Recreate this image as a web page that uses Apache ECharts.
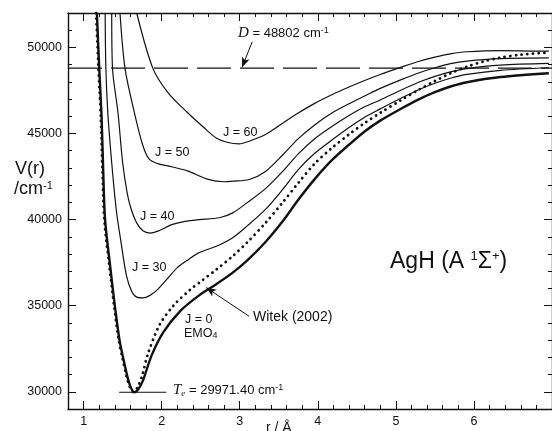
<!DOCTYPE html>
<html>
<head>
<meta charset="utf-8">
<script src="https://cdn.jsdelivr.net/npm/echarts@6/dist/echarts.min.js"></script>
<style>
  html, body { margin: 0; padding: 0; background: #fff; }
  #chart { width: 552px; height: 431px; }
</style>
</head>
<body>
<div id="chart"></div>
<script>
// Potential energy curves of AgH in the A 1Sigma+ state, r in Angstrom, V in cm^-1.
const emo4 = [
  [1.17,52000],[1.20,48800],[1.23,46000],[1.25,43000],[1.275,40000],[1.34,37300],[1.40,35000],
  [1.46,33000],[1.51,31900],[1.56,30900],[1.60,30300],[1.65,29971.4],[1.70,30150],[1.76,30650],
  [1.87,32100],[2.02,33450],[2.24,34700],[2.48,35600],[2.70,36250],[2.91,36920],[3.10,37650],
  [3.33,38700],[3.55,39900],[3.75,41150],[3.96,42350],[4.18,43450],[4.40,44350],[4.60,45120],
  [4.80,45750],[5.07,46450],[5.30,47000],[5.50,47400],[5.70,47730],[5.91,47980],[6.34,48280],[6.96,48500]
];
const witek = [
  [1.16,52000],[1.19,48800],[1.22,46000],[1.24,43000],[1.265,40000],[1.33,37300],[1.39,35000],
  [1.45,33000],[1.50,31900],[1.55,30900],[1.59,30300],[1.635,29990],[1.69,30250],[1.75,30950],
  [1.82,32150],[1.97,33860],[2.15,35000],[2.37,35950],[2.50,36400],[2.70,37100],[2.91,37880],
  [3.10,38700],[3.33,39810],[3.55,41000],[3.75,42130],[3.96,43250],[4.18,44160],[4.40,44950],
  [4.60,45610],[4.80,46200],[5.06,46920],[5.30,47560],[5.50,48050],[5.70,48500],[5.91,48880],
  [6.12,49180],[6.33,49400],[6.60,49580],[6.95,49700]
];
const j30 = [
  [1.276,52000],[1.285,48800],[1.31,46200],[1.36,43300],[1.42,40500],[1.48,38660],[1.55,36720],
  [1.62,35800],[1.69,35480],[1.76,35450],[1.85,35600],[1.95,35950],[2.08,36600],[2.20,37210],
  [2.35,37700],[2.48,38080],[2.70,38450],[2.91,38950],[3.10,39650],[3.33,40590],[3.55,41750],
  [3.75,42900],[3.96,43850],[4.18,44620],[4.40,45350],[4.60,45950],[4.80,46430],[5.07,47060],
  [5.30,47560],[5.50,47920],[5.70,48210],[5.91,48430],[6.34,48670],[6.96,48820]
];
const j40 = [
  [1.36,52000],[1.37,48800],[1.44,46220],[1.50,43320],[1.56,41500],[1.61,40600],[1.68,39810],
  [1.76,39350],[1.85,39220],[1.95,39330],[2.14,39720],[2.30,39900],[2.48,40000],[2.74,40110],
  [2.91,40390],[3.10,41000],[3.33,41800],[3.55,42800],[3.75,43820],[3.96,44700],[4.18,45410],
  [4.40,46050],[4.60,46550],[4.80,46950],[5.07,47530],[5.30,47990],[5.50,48320],[5.70,48580],
  [5.91,48770],[6.34,48970],[6.96,49070]
];
const j50 = [
  [1.466,52000],[1.53,48800],[1.65,46220],[1.76,44290],[1.84,43510],[1.95,43250],[2.08,43120],
  [2.33,42830],[2.585,42350],[2.80,42200],[2.91,42230],[3.12,42330],[3.33,42800],[3.55,43750],
  [3.75,44700],[3.96,45500],[4.18,46190],[4.40,46730],[4.60,47180],[4.80,47620],[5.07,48130],
  [5.30,48530],[5.50,48820],[5.70,49060],[5.91,49210],[6.34,49350],[6.96,49390]
];
const j60 = [
  [1.68,52000],[1.886,48800],[2.08,47380],[2.33,46220],[2.54,45350],[2.70,44740],[2.85,44480],
  [2.99,44400],[3.12,44550],[3.33,44940],[3.55,45600],[3.75,46190],[3.96,46750],[4.18,47250],
  [4.40,47700],[4.60,48080],[4.80,48430],[5.07,48855],[5.30,49200],[5.50,49440],[5.70,49630],
  [5.91,49750],[6.34,49820],[6.96,49780]
];
const dissociation = 48802;
const te = 29971.40;
const teSpan = [1.455, 2.06];

const xRange = [0.8, 7];
const yRange = [29000, 52000];
const xMajor = [1, 2, 3, 4, 5, 6, 7];
const xLabels = [1, 2, 3, 4, 5, 6];
const yMajor = [30000, 35000, 40000, 45000, 50000];

const xMinor = [];
for (let i = 4; i <= 35; i++) { const v = +(i * 0.2).toFixed(1); if (v % 1 !== 0) xMinor.push(v); }
const yMinor = [];
for (let v = 29000; v <= 52000; v += 1000) if (v % 5000 !== 0) yMinor.push(v);

const INK = '#111';
const SANS = '"Liberation Sans", Arial, Helvetica, sans-serif';
const SERIF = '"Liberation Serif", "Times New Roman", serif';

function axis(pos, range, ticks, len, labels, showLine) {
  return {
    type: 'value', position: pos, min: range[0], max: range[1],
    axisLine: { show: showLine, onZero: false, lineStyle: { color: INK, width: 1.4 } },
    axisTick: { show: true, inside: true, length: len, customValues: ticks, lineStyle: { color: INK, width: 1 } },
    axisLabel: labels
      ? { customValues: labels, color: INK, fontSize: 12.5, fontFamily: SANS, margin: 6, formatter: v => String(v) }
      : { show: false },
    splitLine: { show: false }
  };
}

function curve(name, data, width, dash) {
  return {
    name, type: 'line', data, showSymbol: false, symbol: 'none',
    smooth: 0.3, clip: true, silent: true,
    lineStyle: { color: INK, width, type: dash || 'solid', cap: dash ? 'round' : 'butt', join: 'round' },
    z: dash ? 3 : 2
  };
}

const chart = echarts.init(document.getElementById('chart'), null, { renderer: 'canvas' });

chart.setOption({
  animation: false,
  backgroundColor: '#fff',
  grid: { left: 68, right: -3.4, top: 13, bottom: 22, containLabel: false },
  xAxis: [
    axis('bottom', xRange, xMajor, 8, xLabels, true),
    axis('bottom', xRange, xMinor, 4, null, false),
    axis('top', xRange, xMajor, 8, null, true),
    axis('top', xRange, xMinor, 4, null, false)
  ],
  yAxis: [
    axis('left', yRange, yMajor, 8, yMajor, true),
    axis('left', yRange, yMinor, 4, null, false),
    axis('right', yRange, yMajor, 8, null, true),
    axis('right', yRange, yMinor, 4, null, false)
  ],
  series: [
    curve('J=60', j60, 1.2),
    curve('J=50', j50, 1.2),
    curve('J=40', j40, 1.2),
    curve('J=30', j30, 1.2),
    curve('J=0 EMO4', emo4, 2.4),
    curve('Witek (2002)', witek, 2.8, [0.1, 5.6]),
    {
      name: 'D', type: 'line', silent: true, showSymbol: false, symbol: 'none',
      data: [[xRange[0], dissociation], [xRange[1], dissociation]],
      lineStyle: { color: INK, width: 1.2, type: [34, 9] }, z: 1,
      markLine: {
        silent: true, symbol: ['none', 'arrow'], symbolSize: [6, 10], label: { show: false },
        lineStyle: { color: INK, width: 1, type: 'solid' },
        data: [
          [{ coord: [3.16, 50330] }, { coord: [3.03, 48850] }],
          [{ coord: [3.12, 34386] }, { coord: [2.57, 36050] }]
        ]
      }
    },
    {
      name: 'Te', type: 'line', silent: true, showSymbol: false, symbol: 'none',
      data: [[teSpan[0], te], [teSpan[1], te]],
      lineStyle: { color: INK, width: 1 }, z: 1
    }
  ],
  graphic: [
    { type: 'text', x: 15, y: 160, style: { text: 'V(r)', font: '18px ' + SANS, fill: INK } },
    { type: 'text', x: 14, y: 180, style: { text: '/cm{s|-1}', font: '18px ' + SANS, fill: INK,
        rich: { s: { fontSize: 11, fontFamily: SANS, verticalAlign: 'top' } } } },
    { type: 'text', x: 266, y: 421, style: { text: 'r / Å', font: '14px ' + SANS, fill: INK } },
    { type: 'text', x: 238, y: 26, style: { text: '{i|D}{n| = 48802 cm}{s|-1}', fill: INK,
        rich: { i: { fontSize: 15, fontFamily: SERIF, fontStyle: 'italic' },
                n: { fontSize: 13, fontFamily: SANS },
                s: { fontSize: 9, fontFamily: SANS, verticalAlign: 'top' } } } },
    { type: 'text', x: 223, y: 126, style: { text: 'J = 60', font: '12.5px ' + SANS, fill: INK } },
    { type: 'text', x: 155, y: 146, style: { text: 'J = 50', font: '12.5px ' + SANS, fill: INK } },
    { type: 'text', x: 140, y: 210, style: { text: 'J = 40', font: '12.5px ' + SANS, fill: INK } },
    { type: 'text', x: 132, y: 261, style: { text: 'J = 30', font: '12.5px ' + SANS, fill: INK } },
    { type: 'text', x: 185, y: 313, style: { text: 'J = 0', font: '12.5px ' + SANS, fill: INK } },
    { type: 'text', x: 184, y: 327, style: { text: 'EMO{b|4}', font: '12.5px ' + SANS, fill: INK,
        rich: { b: { fontSize: 9, fontFamily: SANS, verticalAlign: 'bottom' } } } },
    { type: 'text', x: 253, y: 310, style: { text: 'Witek (2002)', font: '14px ' + SANS, fill: INK } },
    { type: 'text', x: 390, y: 250, style: { text: 'AgH (A {s|1}Σ{s|+})', font: '23px ' + SANS, fill: INK,
        rich: { s: { fontSize: 13, fontFamily: SANS, verticalAlign: 'top' } } } },
    { type: 'text', x: 173, y: 383, style: { text: '{i|T}{b|e}{n| = 29971.40 cm}{s|-1}', fill: INK,
        rich: { i: { fontSize: 15, fontFamily: SERIF, fontStyle: 'italic' },
                b: { fontSize: 9, fontFamily: SERIF, fontStyle: 'italic', verticalAlign: 'bottom' },
                n: { fontSize: 13, fontFamily: SANS },
                s: { fontSize: 9, fontFamily: SANS, verticalAlign: 'top' } } } }
  ]
});
</script>
</body>
</html>
